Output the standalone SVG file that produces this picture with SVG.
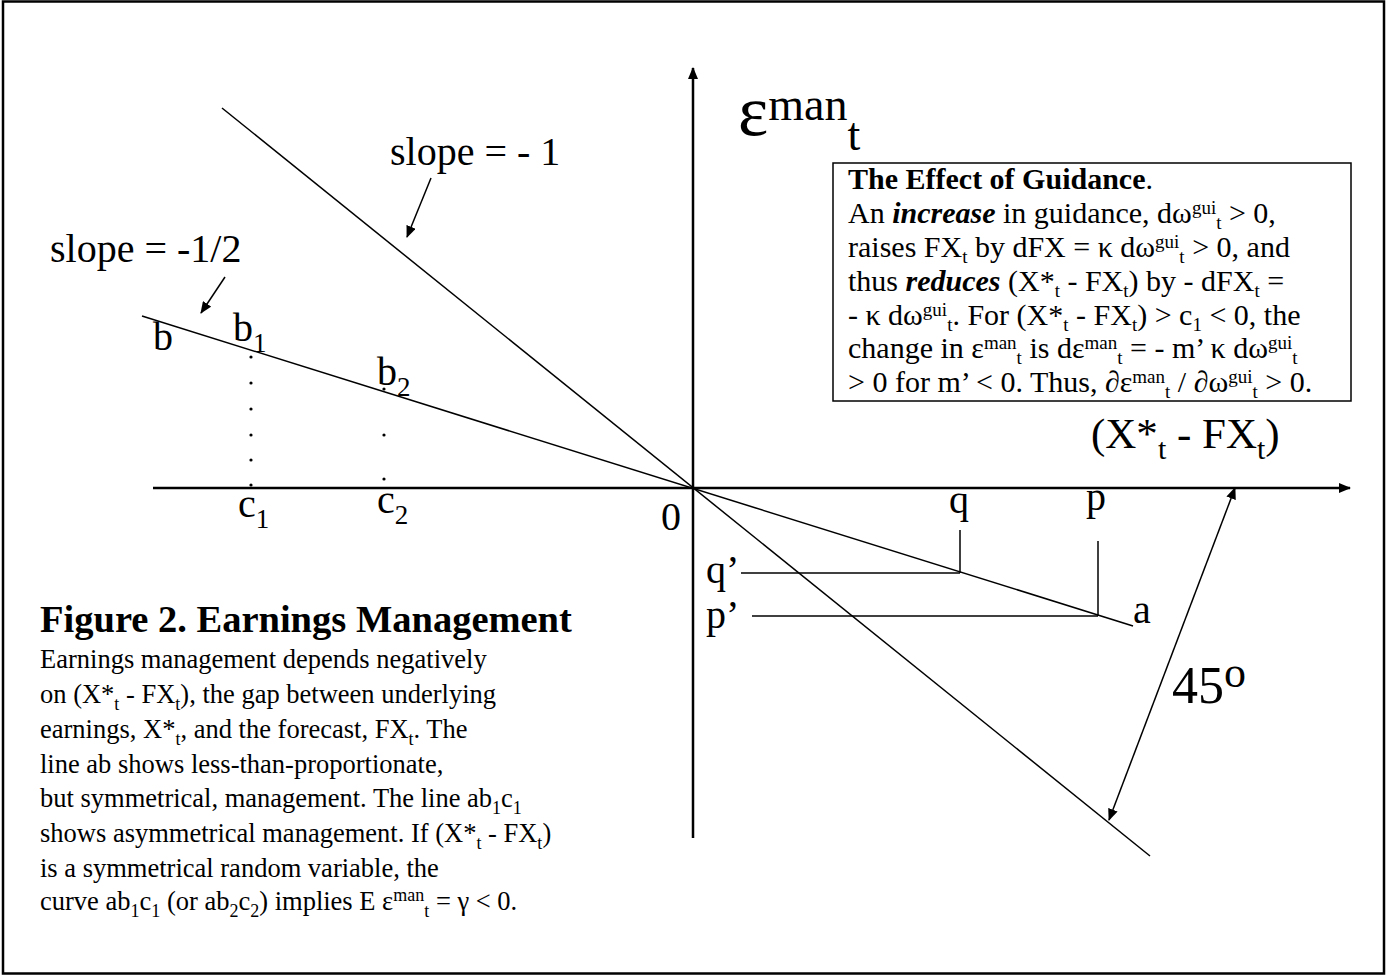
<svg xmlns="http://www.w3.org/2000/svg" width="1387" height="976" viewBox="0 0 1387 976">
<defs>
<marker id="ah" viewBox="0 0 12 10" refX="11" refY="5" markerWidth="12" markerHeight="10" markerUnits="userSpaceOnUse" orient="auto-start-reverse">
<path d="M0,0 L12,5 L0,10 Z" fill="#000"/>
</marker>
<style>
text{font-family:"Liberation Serif","Times New Roman",serif;fill:#000}
.lbl{font-size:40px}
.sub{font-size:27px}
.t{font-size:30px}
.c{font-size:26.5px}
.s{font-size:19px}
.axis{stroke:#000;stroke-width:2.5;fill:none}
.ln{stroke:#000;stroke-width:1.5;fill:none}
.dot{fill:#000}
</style>
</defs>
<rect x="3" y="1.5" width="1381" height="972" fill="#fff" stroke="#000" stroke-width="2.5"/>

<g id="connectors">
<line class="axis" x1="693" y1="838" x2="693" y2="68" marker-end="url(#ah)"/>
<line class="axis" x1="153" y1="488" x2="1350" y2="488" marker-end="url(#ah)"/>
<line class="ln" x1="142" y1="316" x2="1133" y2="626"/>
<line class="ln" x1="222" y1="108" x2="1150" y2="856"/>
<line class="ln" x1="431" y1="178" x2="407" y2="237" marker-end="url(#ah)"/>
<line class="ln" x1="225" y1="277" x2="201" y2="313" marker-end="url(#ah)"/>
<line class="ln" x1="1235" y1="488" x2="1109" y2="820" marker-start="url(#ah)" marker-end="url(#ah)"/>
<line class="ln" x1="960" y1="530" x2="960" y2="573"/>
<line class="ln" x1="741" y1="573" x2="960" y2="573"/>
<line class="ln" x1="1098" y1="541" x2="1098" y2="616"/>
<line class="ln" x1="752" y1="616" x2="1098" y2="616"/>
<g class="dot">
<circle cx="251" cy="357" r="1.6"/><circle cx="251" cy="383" r="1.6"/><circle cx="251" cy="409" r="1.6"/>
<circle cx="251" cy="435" r="1.6"/><circle cx="251" cy="460" r="1.6"/><circle cx="251" cy="485" r="1.6"/>
<circle cx="384" cy="389" r="1.6"/><circle cx="384" cy="435" r="1.6"/><circle cx="384" cy="479" r="1.6"/>
</g>
</g>

<g id="axis-label-eps">
<text x="738" y="135" font-size="72">ε<tspan font-size="46" dy="-15">man</tspan><tspan font-size="46" dy="30">t</tspan></text>
</g>
<g id="axis-label-x">
<text x="1091" y="448" font-size="43">(X*<tspan font-size="30" dy="11">t</tspan><tspan dy="-11"> - FX</tspan><tspan font-size="30" dy="11">t</tspan><tspan dy="-11">)</tspan></text>
</g>
<g id="slope1">
<text class="lbl" x="390" y="165">slope = - 1</text>
</g>
<g id="slope-half">
<text class="lbl" x="50" y="262">slope = -1/2</text>
</g>
<g id="pt-b"><text class="lbl" x="153" y="350">b</text></g>
<g id="pt-b1"><text class="lbl" x="233" y="341">b<tspan class="sub" dy="11">1</tspan></text></g>
<g id="pt-b2"><text class="lbl" x="377" y="385">b<tspan class="sub" dy="11">2</tspan></text></g>
<g id="pt-c1"><text class="lbl" x="238" y="517">c<tspan class="sub" dy="11">1</tspan></text></g>
<g id="pt-c2"><text class="lbl" x="377" y="513">c<tspan class="sub" dy="11">2</tspan></text></g>
<g id="origin"><text class="lbl" x="661" y="530">0</text></g>
<g id="pt-q"><text class="lbl" x="949" y="513">q</text></g>
<g id="pt-p"><text class="lbl" x="1086" y="510">p</text></g>
<g id="pt-q2"><text class="lbl" x="706" y="583">q’</text></g>
<g id="pt-p2"><text class="lbl" x="706" y="628">p’</text></g>
<g id="pt-a"><text class="lbl" x="1133" y="623">a</text></g>
<g id="angle"><text x="1172" y="703" font-size="52">45<tspan font-size="44" dy="-16">o</tspan></text></g>

<g id="guidance-box">
<rect x="833" y="163" width="518" height="238" fill="#fff" stroke="#000" stroke-width="1.5"/>
<text class="t" x="848" y="189"><tspan font-weight="bold">The Effect of Guidance</tspan>.</text>
<text class="t" x="848" y="223">An <tspan font-weight="bold" font-style="italic">increase</tspan> in guidance, dω<tspan class="s" dy="-9">gui</tspan><tspan class="s" dy="15">t</tspan><tspan dy="-6"> &gt; 0,</tspan></text>
<text class="t" x="848" y="257">raises FX<tspan class="s" dy="6">t</tspan><tspan dy="-6"> by dFX = κ dω</tspan><tspan class="s" dy="-9">gui</tspan><tspan class="s" dy="15">t</tspan><tspan dy="-6"> &gt; 0, and</tspan></text>
<text class="t" x="848" y="291">thus <tspan font-weight="bold" font-style="italic">reduces</tspan> (X*<tspan class="s" dy="6">t</tspan><tspan dy="-6"> - FX</tspan><tspan class="s" dy="6">t</tspan><tspan dy="-6">) by - dFX</tspan><tspan class="s" dy="6">t</tspan><tspan dy="-6"> =</tspan></text>
<text class="t" x="848" y="325">- κ dω<tspan class="s" dy="-9">gui</tspan><tspan class="s" dy="15">t</tspan><tspan dy="-6">. For (X*</tspan><tspan class="s" dy="6">t</tspan><tspan dy="-6"> - FX</tspan><tspan class="s" dy="6">t</tspan><tspan dy="-6">) &gt; c</tspan><tspan class="s" dy="6">1</tspan><tspan dy="-6"> &lt; 0, the</tspan></text>
<text class="t" x="848" y="358">change in ε<tspan class="s" dy="-9">man</tspan><tspan class="s" dy="15">t</tspan><tspan dy="-6"> is dε</tspan><tspan class="s" dy="-9">man</tspan><tspan class="s" dy="15">t</tspan><tspan dy="-6"> = - m’ κ dω</tspan><tspan class="s" dy="-9">gui</tspan><tspan class="s" dy="15">t</tspan></text>
<text class="t" x="848" y="392">&gt; 0 for m’ &lt; 0. Thus, ∂ε<tspan class="s" dy="-9">man</tspan><tspan class="s" dy="15">t</tspan><tspan dy="-6"> / ∂ω</tspan><tspan class="s" dy="-9">gui</tspan><tspan class="s" dy="15">t</tspan><tspan dy="-6"> &gt; 0.</tspan></text>
</g>

<g id="caption">
<text x="40" y="632" font-size="38.5" font-weight="bold">Figure 2. Earnings Management</text>
<text class="c" x="40" y="668">Earnings management depends negatively</text>
<text class="c" x="40" y="703">on (X*<tspan font-size="18" dy="7">t</tspan><tspan dy="-7"> - FX</tspan><tspan font-size="18" dy="7">t</tspan><tspan dy="-7">), the gap between underlying</tspan></text>
<text class="c" x="40" y="738">earnings, X*<tspan font-size="18" dy="7">t</tspan><tspan dy="-7">, and the forecast, FX</tspan><tspan font-size="18" dy="7">t</tspan><tspan dy="-7">. The</tspan></text>
<text class="c" x="40" y="773">line ab shows less-than-proportionate,</text>
<text class="c" x="40" y="807">but symmetrical, management. The line ab<tspan font-size="18" dy="7">1</tspan><tspan dy="-7">c</tspan><tspan font-size="18" dy="7">1</tspan></text>
<text class="c" x="40" y="842">shows asymmetrical management. If (X*<tspan font-size="18" dy="7">t</tspan><tspan dy="-7"> - FX</tspan><tspan font-size="18" dy="7">t</tspan><tspan dy="-7">)</tspan></text>
<text class="c" x="40" y="877">is a symmetrical random variable, the</text>
<text class="c" x="40" y="910">curve ab<tspan font-size="18" dy="7">1</tspan><tspan dy="-7">c</tspan><tspan font-size="18" dy="7">1</tspan><tspan dy="-7"> (or ab</tspan><tspan font-size="18" dy="7">2</tspan><tspan dy="-7">c</tspan><tspan font-size="18" dy="7">2</tspan><tspan dy="-7">) implies E ε</tspan><tspan font-size="18" dy="-9">man</tspan><tspan font-size="18" dy="16">t</tspan><tspan dy="-7"> = γ &lt; 0.</tspan></text>
</g>
</svg>
